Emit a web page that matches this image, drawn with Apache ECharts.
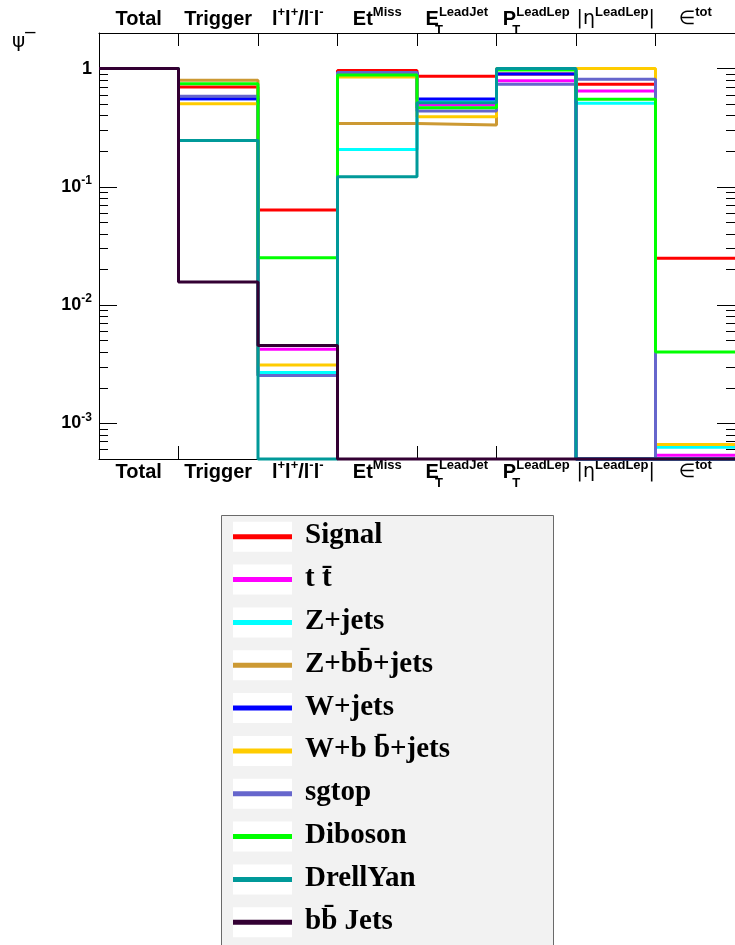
<!DOCTYPE html>
<html>
<head>
<meta charset="utf-8">
<script src="https://cdn.jsdelivr.net/npm/echarts@6/dist/echarts.min.js"></script>
<style>
html,body{margin:0;padding:0;background:#fff;}
#chart{width:735px;height:945px;}
</style>
</head>
<body>
<div id="chart"></div>
<script>
// ---------------- data ----------------
const categories = ['Total', 'Trigger', 'l^{+}l^{+}/l^{-}l^{-}', 'Et^{Miss}', 'E_{T}^{LeadJet}', 'P_{T}^{LeadLep}', '|#eta^{LeadLep}|', '#epsilon^{tot}'];

const seriesNames = ['Signal', 't t\u0304', 'Z+jets', 'Z+bb\u0304+jets', 'W+jets', 'W+b b\u0304+jets', 'sgtop', 'Diboson', 'DrellYan', 'bb\u0304 Jets'];

const signal   = [1, 0.700, 0.0638, 0.962, 0.860, 0.902, 0.736, 0.0249];
const ttbar    = [1, 0.557, 0.00424, 0.920, 0.493, 0.791, 0.647, 0.000537];
const zjets    = [1, 0.557, 0.00270, 0.207, 0.525, 1.000, 0.510, 0.000630];
const zbbjets  = [1, 0.796, 0.00254, 0.344, 0.333, 1.000, 0, 0];
const wjets    = [1, 0.557, 0.00455, 0.925, 0.553, 0.902, 0, 0];
const wbbjets  = [1, 0.505, 0.00312, 0.851, 0.392, 1.000, 1.000, 0.000664];
const sgtop    = [1, 0.585, 0.00254, 0.925, 0.438, 0.736, 0.812, 0];
const diboson  = [1, 0.746, 0.0252, 0.884, 0.467, 0.975, 0.5515, 0.00402];
const drellyan = [1, 0.247, 0, 0.1216, 0.515, 1.000, 0, 0];
const bbjets   = [1, 0.0157, 0.00455, 0, 0, 0, 0, 0];

const seriesValues = [signal, ttbar, zjets, zbbjets, wjets, wbbjets, sgtop, diboson, drellyan, bbjets];
const seriesColors = ['#ff0000', '#ff00ff', '#00ffff', '#cc9933', '#0000ff', '#ffcc00', '#6666cc', '#00ff00', '#009999', '#330033'];

const majorTicks = [0.001, 0.01, 0.1, 1];
const minorTicks = [];
[0.0001, 0.001, 0.01, 0.1, 1].forEach(function (d) {
  for (let k = 2; k <= 9; k++) minorTicks.push(+(d * k).toPrecision(3));
});
const YMIN = 5e-4, YMAX = 2;

// ---------------- helpers ----------------
function toRich(s) {
  let out = s.replace('#eta', 'η').replace('#epsilon', '∈');
  out = out.replace(/_\{([^}]*)\}\^\{([^}]*)\}/g, '{sub|$1}{sup|$2}');
  out = out.replace(/\^\{([^}]*)\}/g, '{sup|$1}');
  out = out.replace(/\|η/g, '{sym||η}').replace(/\}\|$/, '}{sym||}').replace('∈', '{sym|∈}');
  return out;
}

const LH = 26;
const catRich = {
  sup: {fontFamily: 'Liberation Sans', fontWeight: 'bold', fontSize: 13, color: '#000', lineHeight: LH, padding: [0, 0, 14, 0]},
  sub: {fontFamily: 'Liberation Sans', fontWeight: 'bold', fontSize: 13, color: '#000', lineHeight: LH, width: 0.1, padding: [22, 0, 0, 0]},
  sym: {fontFamily: 'DejaVu Sans', fontWeight: 'normal', fontSize: 19, color: '#000', lineHeight: LH}
};

function catAxis(pos) {
  return {
    type: 'category', data: categories, position: pos, boundaryGap: true, gridIndex: 0,
    axisLine: {show: true, onZero: false, lineStyle: {color: '#000', width: 1}},
    axisTick: {show: true, inside: true, length: 13, alignWithLabel: false, lineStyle: {color: '#000', width: 1}},
    axisLabel: {
      interval: 0, margin: pos === 'top' ? 1 : 0, lineHeight: LH,
      fontFamily: 'Liberation Sans', fontWeight: 'bold', fontSize: 20, color: '#000',
      formatter: function (v) { return toRich(v); },
      rich: catRich
    },
    splitLine: {show: false}
  };
}

function logAxis(pos, values, len, labels) {
  return {
    type: 'log', logBase: 10, min: YMIN, max: YMAX, position: pos, gridIndex: 0,
    axisLine: {show: labels || pos === 'right', onZero: false, lineStyle: {color: '#000', width: 1}},
    axisTick: {show: true, inside: true, length: len, customValues: values, lineStyle: {color: '#000', width: 1}},
    axisLabel: labels ? {
      show: true, margin: 7, customValues: values,
      fontFamily: 'Liberation Sans', fontWeight: 'bold', fontSize: 18, color: '#000',
      formatter: function (v) {
        const e = Math.round(Math.log10(v));
        if (Math.abs(Math.log10(v) - e) > 1e-6) return '';
        return e === 0 ? '1' : '10{sup|' + e + '}';
      },
      rich: {sup: {fontFamily: 'Liberation Sans', fontWeight: 'bold', fontSize: 12, color: '#000', padding: [0, 0, 12, 0]}}
    } : {show: false},
    splitLine: {show: false},
    minorTick: {show: false}
  };
}

const series = seriesValues.map(function (vals, i) {
  const pts = vals.map(function (v, k) { return [k, Math.max(v, YMIN)]; });
  pts.push([vals.length, Math.max(vals[vals.length - 1], YMIN)]);
  return {
    name: seriesNames[i], type: 'line', step: 'end', xAxisIndex: 0, yAxisIndex: 0,
    data: pts, showSymbol: false, symbol: 'none', clip: false,
    lineStyle: {color: seriesColors[i], width: 3}, itemStyle: {color: seriesColors[i]},
    emphasis: {disabled: true}, silent: true, z: 2
  };
});

// legend drawn as graphic elements from the series names / colours
const legendEls = [{
  type: 'rect', shape: {x: 221.5, y: 515.5, width: 332, height: 440},
  style: {fill: '#f2f2f2', stroke: '#6a6a6a', lineWidth: 1}, z: 10
}];
seriesNames.forEach(function (n, i) {
  const cy = 536.7 + 42.84 * i;
  legendEls.push({type: 'rect', shape: {x: 233, y: cy - 15, width: 59, height: 30}, style: {fill: '#ffffff'}, z: 11});
  legendEls.push({type: 'rect', shape: {x: 233, y: cy - 2.5, width: 59, height: 5}, style: {fill: seriesColors[i]}, z: 12});
  legendEls.push({type: 'text', x: 305, y: cy - 1, style: {text: n, fill: '#000', font: 'bold 29px "Liberation Serif"', textVerticalAlign: 'middle', textAlign: 'left'}, z: 12});
});
legendEls.push({type: 'text', x: 12, y: 42, style: {text: 'ψ‾', fill: '#000', font: '20px "DejaVu Sans"', textVerticalAlign: 'middle', textAlign: 'left'}, z: 12});

const chart = echarts.init(document.getElementById('chart'), null, {renderer: 'canvas'});
chart.setOption({
  animation: false,
  backgroundColor: '#ffffff',
  grid: {left: 99, top: 33, width: 639, bottom: 486, containLabel: false},
  xAxis: [
    {type: 'value', min: 0, max: 8, show: false, gridIndex: 0},
    catAxis('bottom'),
    catAxis('top')
  ],
  yAxis: [
    logAxis('left', majorTicks, 18, true),
    logAxis('left', minorTicks, 9, false),
    logAxis('right', majorTicks, 18, false),
    logAxis('right', minorTicks, 9, false)
  ],
  series: series,
  graphic: legendEls
});
</script>
</body>
</html>
